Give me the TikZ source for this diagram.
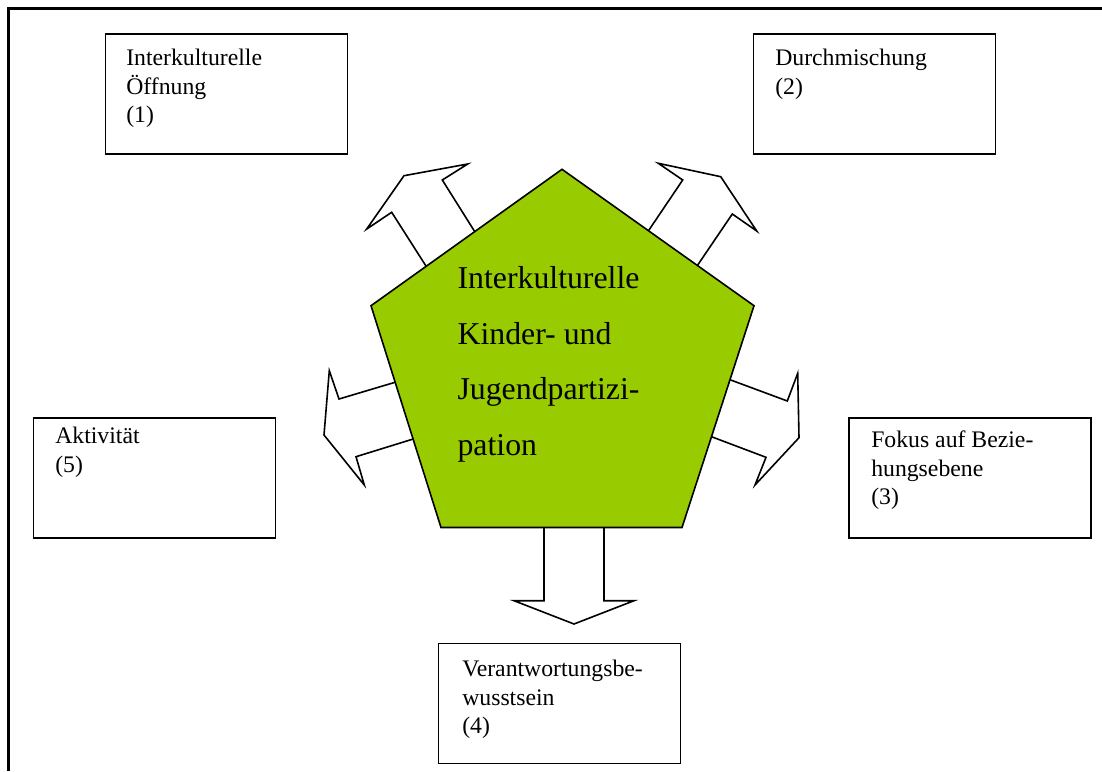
\documentclass[tikz,border=0pt]{standalone}
\usepackage{fontspec}
\setmainfont{Liberation Serif}
\definecolor{pgreen}{RGB}{153,204,0}
\newcommand{\boxstrut}{\rule{0pt}{17pt}}
\newcommand{\pentstrut}{\rule{0pt}{22pt}}
\tikzset{
  frameline/.style={draw=black, line width=1.6pt},
  boxnode/.style={draw=black, line width=1.4pt, rectangle, minimum width=181.5pt, minimum height=90pt, inner sep=0pt, outer sep=0pt, fill=white},
  boxtext/.style={anchor=north west, inner sep=0pt, align=left, font=\fontsize{17.8pt}{21.3pt}\selectfont},
  blockarrow/.style={draw=black, fill=white, line width=1.2pt, line join=miter},
  pent/.style={draw=black, fill=pgreen, line width=1.2pt, line join=miter},
  penttext/.style={anchor=north west, inner sep=0pt, align=left, font=\fontsize{23.85pt}{41.7pt}\selectfont},
}
\begin{document}
\begin{tikzpicture}[x=0.75pt, y=-0.75pt]
\useasboundingbox (0,0) rectangle (1102,771);
% outer frame (top and left only)
\coordinate (fBL) at (8.5,771);
\coordinate (fTL) at (8.5,8.5);
\coordinate (fTR) at (1102,8.5);
\draw[frameline] (fBL) -- (fTL) -- (fTR);

% boxes
\node[boxnode] (b1) at (226.5,94) {};
\node[boxnode] (b2) at (874.5,94) {};
\node[boxnode] (b5) at (154.5,478) {};
\node[boxnode] (b3) at (970,478) {};
\node[boxnode] (b4) at (559.5,703.5) {};

\node[boxtext] (t1) at (126,43) {\boxstrut Interkulturelle\\Öffnung\\(1)};
\node[boxtext] (t2) at (775,43) {\boxstrut Durchmischung\\(2)};
\node[boxtext] (t5) at (55,421) {\boxstrut Aktivität\\(5)};
\node[boxtext] (t3) at (871,425) {\boxstrut Fokus auf Bezie-\\hungsebene\\(3)};
\node[boxtext] (t4) at (462,654) {\boxstrut Verantwortungsbe-\\wusstsein\\(4)};

% block arrows (drawn behind the pentagon)
\draw[blockarrow] (434,278.6) -- (391.7,212.3) -- (366.7,229) -- (404,175.7) -- (467.7,164) -- (442.3,180) -- (482.3,243.7) -- cycle;
\draw[blockarrow] (640.6,242.4) -- (682.7,180) -- (658.3,163.3) -- (720.7,176.7) -- (756.7,231) -- (732.3,214) -- (689.3,277.4) -- cycle;
\draw[blockarrow] (409.4,378) -- (339,399) -- (329.3,370.7) -- (324,435) -- (364.3,485) -- (356,456.7) -- (427.1,434.7) -- cycle;
\draw[blockarrow] (716.7,374.8) -- (787.3,401) -- (797.7,373.3) -- (799,437.7) -- (755,485) -- (766,457.3) -- (697.7,431.5) -- cycle;
\draw[blockarrow] (544,512) -- (544,600.7) -- (514,600.7) -- (574,624) -- (634,600.7) -- (604,600.7) -- (604,512) -- cycle;

% pentagon
\coordinate (pT) at (562,169.3);
\coordinate (pR) at (754,305.7);
\coordinate (pBR) at (682,527.5);
\coordinate (pBL) at (441,527.5);
\coordinate (pL) at (371,305.7);
\draw[pent] (pT) -- (pR) -- (pBR) -- (pBL) -- (pL) -- cycle;

\node[penttext] (pt) at (457.3,259) {\pentstrut Interkulturelle\\Kinder- und\\Jugendpartizi-\\pation};
\end{tikzpicture}
\end{document}
